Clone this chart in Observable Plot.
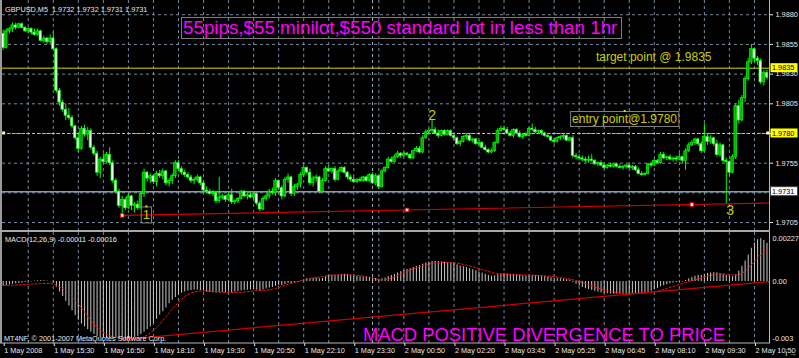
<!DOCTYPE html>
<html><head><meta charset="utf-8">
<script src="https://cdn.jsdelivr.net/npm/d3@7"></script>
<script src="https://cdn.jsdelivr.net/npm/@observablehq/plot@0.6"></script>
<style>
html,body{margin:0;padding:0;background:#000;}
#chart{position:relative;width:799px;height:358px;background:#000;overflow:hidden;font-family:"Liberation Sans",Arial,sans-serif;}
#chart svg{position:absolute;left:0;}
</style></head><body><div id="chart"></div><script>
// ---------- DATA (prices in pips above 1.9700) ----------
const openPips = [164,152,166,168,171,169,172,169,166,168,165,163,166,158,160,157,160,151,116,106,
100,95,93,86,76,67,84,79,82,68,63,47,58,56,62,55,40,31,19,24,
17,27,19,20,17,29,47,42,44,39,46,44,48,38,40,44,55,50,47,45,
43,40,41,43,38,32,31,29,30,23,26,27,24,28,22,23,25,31,27,28,
26,29,21,16,25,27,31,30,40,34,27,41,43,29,35,37,45,51,47,38,
42,43,31,40,50,48,50,41,48,51,47,43,41,39,41,40,43,40,45,38,
44,35,48,51,58,56,60,63,61,63,62,59,65,67,64,76,81,82,83,80,
78,82,79,82,78,76,71,73,77,78,74,75,71,72,68,66,64,65,72,82,
84,83,80,78,83,80,77,79,78,84,83,81,82,80,78,77,74,73,76,77,
78,74,76,61,60,59,58,57,58,57,54,55,53,51,53,52,54,52,51,52,
53,51,52,49,46,45,46,54,53,57,55,62,59,60,58,59,58,60,57,65,
70,72,75,71,65,77,73,76,71,62,70,57,56,47,60,103,91,110,126,140,
151,143,141,123,131];
const highPips = [167,168,169,173,173,173,173,170,169,169,168,168,167,162,161,163,165,152,118,108,
105,101,95,87,80,86,87,85,84,70,65,60,63,64,68,57,42,33,27,26,
29,28,22,23,31,50,48,46,45,48,49,50,49,42,46,57,57,52,49,47,
45,43,45,44,39,35,33,32,31,43,29,28,30,33,24,26,32,32,30,30,
31,30,23,27,29,33,34,42,41,36,43,46,44,37,38,47,53,52,50,44,
45,44,42,52,53,51,52,50,52,52,48,45,43,42,43,44,44,46,47,46,
45,50,52,60,60,62,65,64,64,64,63,66,69,69,78,83,84,92,85,83,
83,83,83,83,80,77,74,78,79,79,76,76,74,73,70,67,67,73,84,86,
86,85,82,84,84,82,80,81,85,88,85,83,83,81,80,78,76,77,78,79,
79,77,78,63,62,61,60,61,62,58,56,57,55,54,55,55,55,54,53,54,
54,53,53,51,48,47,55,56,58,58,64,64,61,62,60,61,63,61,67,72,
74,76,76,73,88,80,78,77,74,72,71,59,57,62,105,108,112,128,143,155,
152,145,143,133,133];
const lowPips = [150,151,164,165,167,168,168,165,164,163,162,162,157,156,155,155,150,114,103,98,
91,91,84,74,64,66,77,74,66,61,44,42,54,55,53,38,29,17,10,15,
16,15,13,15,16,26,39,38,37,35,42,41,36,35,37,42,48,45,43,41,
38,37,39,36,30,29,28,27,21,21,24,22,23,20,20,21,24,26,24,25,
24,19,14,15,23,25,28,27,32,24,26,38,27,27,32,34,43,45,36,35,
39,29,30,39,47,46,39,40,47,46,41,39,38,38,39,39,39,39,37,36,
33,34,47,50,55,55,59,59,60,61,58,58,64,63,63,75,79,80,79,76,
77,78,78,77,74,70,69,72,75,73,72,70,69,67,65,63,63,64,71,81,
82,79,77,76,79,76,75,77,77,82,80,79,78,77,76,73,71,72,74,75,
73,73,59,58,57,56,55,55,56,53,52,52,50,50,51,51,51,50,49,50,
50,49,48,45,44,44,45,51,52,54,54,58,57,57,56,56,57,55,49,64,
69,70,69,63,64,70,71,69,60,60,55,21,44,46,58,88,90,106,124,138,
139,137,121,120,125];
const closePips = [152,166,168,171,169,172,169,166,168,165,163,166,158,160,157,160,151,116,106,100,
95,93,86,76,67,84,79,82,68,63,47,58,56,62,55,40,31,19,24,17,
27,19,20,17,29,47,42,44,39,46,44,48,38,40,44,55,50,47,45,43,
40,41,43,38,32,31,29,30,23,26,27,24,28,22,23,25,31,27,28,26,
29,21,16,25,27,31,30,40,34,27,41,43,29,35,37,45,51,47,38,42,
43,31,40,50,48,50,41,48,51,47,43,41,39,41,40,43,40,45,38,44,
35,48,51,58,56,60,63,61,63,62,59,65,67,64,76,81,82,83,80,78,
82,79,82,78,76,71,73,77,78,74,75,71,72,68,66,64,65,72,82,84,
83,80,78,83,80,77,79,78,84,83,81,82,80,78,77,74,73,76,77,78,
74,76,61,60,59,58,57,58,57,54,55,53,51,53,52,54,52,51,52,53,
51,52,49,46,45,46,54,53,57,55,62,59,60,58,59,58,60,57,65,70,
72,75,71,65,77,73,76,71,62,70,57,56,47,60,103,91,110,126,140,151,
143,141,123,131,127];

// MACD main (histogram) and signal, in units of 0.00001
const macdHist = [-25,-22,-18,-15,-12,-10,-8,-5,-3,-2,
2,4,5,4,2,-2,-8,-30,-55,-80,
-105,-130,-155,-180,-205,-225,-240,-255,-268,-280,
-292,-298,-300,-300,-298,-300,-302,-305,-308,-306,
-304,-300,-296,-290,-280,-268,-255,-240,-222,-200,
-178,-160,-140,-118,-100,-85,-72,-62,-55,-50,
-48,-45,-46,-48,-52,-56,-58,-60,-62,-60,
-58,-58,-56,-58,-57,-54,-50,-48,-46,-45,
-44,-46,-48,-44,-40,-35,-32,-25,-22,-22,
-16,-10,-12,-8,-4,2,10,15,14,16,
18,14,16,26,30,33,32,34,37,38,
36,33,28,27,25,24,22,22,18,16,
12,14,18,26,32,38,45,52,58,64,
68,74,80,84,92,98,102,105,106,105,
104,102,100,98,95,88,82,78,74,68,
62,56,50,44,38,32,28,30,36,40,
42,40,38,38,36,33,30,28,30,32,
31,30,29,26,24,20,17,15,14,13,
10,8,-5,-15,-24,-32,-38,-43,-47,-52,
-56,-60,-63,-65,-66,-67,-67,-66,-66,-65,
-64,-63,-63,-64,-66,-65,-58,-52,-44,-38,
-28,-22,-16,-12,-8,-6,-3,-2,6,14,
22,28,32,32,38,42,45,47,46,42,
38,32,28,26,36,55,80,108,140,176,
204,221,227,217,202];
const macdSignal = [-21,-21,-20,-20,-19,-18,-17,-16,-15,-14,
-13,-12,-11,-10,-10,-11,-14,-20,-28,-38,
-50,-64,-80,-98,-118,-140,-162,-184,-206,-225,
-242,-257,-269,-279,-287,-292,-296,-298,-300,-301,
-302,-302,-301,-300,-298,-292,-284,-273,-260,-244,
-226,-206,-186,-166,-146,-128,-110,-94,-80,-70,
-62,-56,-52,-50,-49,-50,-51,-52,-54,-56,
-57,-58,-59,-59,-59,-58,-57,-55,-54,-52,
-50,-49,-48,-47,-46,-44,-41,-37,-32,-26,
-20,-15,-10,-6,-2,3,8,12,16,19,
21,23,26,29,32,34,35,35,35,35,
35,35,34,33,31,29,26,22,18,13,
10,9,10,13,17,24,31,39,46,53,
60,66,72,78,84,89,93,96,98,99,
100,101,101,100,99,97,94,91,87,83,
78,73,68,63,58,53,48,44,41,39,
37,36,35,35,35,35,35,34,34,33,
33,32,31,30,29,27,25,23,21,19,
16,13,9,5,0,-5,-11,-17,-23,-29,
-35,-40,-45,-49,-53,-56,-59,-61,-62,-63,
-63,-63,-63,-62,-61,-60,-59,-57,-54,-51,
-47,-42,-37,-31,-26,-21,-16,-11,-6,-1,
4,9,14,19,24,29,33,36,38,40,
40,39,37,35,34,36,42,55,70,88,
106,125,142,155,165];

const timeTickBars = [0,16,32,48,64,80,96,112,128,144,160,176,192,208,224,240];
const timeLabels = ["1 May 2008","1 May 15:30","1 May 16:50","1 May 18:10","1 May 19:30","1 May 20:50","1 May 22:10","1 May 23:30","2 May 00:50","2 May 02:20","2 May 03:45","2 May 05:25","2 May 06:45","2 May 08:10","2 May 09:30","2 May 10:50"];
const gridBars = [8,16,24,32,40,48,56,64,72,80,88,96,104,112,120,128,136,144,152,160,168,176,184,192,200,208,216,224,232,240];
const daySeparatorBars = [118];
const priceGridTicks = [1.9705,1.9730,1.9755,1.9780,1.9805,1.9830,1.9855,1.9880];
const priceLabelTicks = [1.9705,1.9755,1.9805,1.9830,1.9855,1.9880];
const macdTickValues = [0.00227, 0, -0.003];
const macdTickLabels = ["0.00227","0.00","-0.003"];

const levelPrices = [1.9835, 1.9780, 1.9731];
const levelLabels = ["1.9835","1.9780","1.9731"];
const trendBars = [38, 220];
const trendPips = [11, 20.2];
const macdTrendBars = [38, 220];
const macdTrendValues = [-307, -37];

const annoTexts = ["target point @ 1.9835","entry point@1.9780","1","2","3"];
const annoBars = [189.5, 181.9, 45.9, 137.2, 232.4];
const annoPrices = [1.98410, 1.97884, 1.97072, 1.97909, 1.97110];

const headerText = "GBPUSD,M5  1.9732 1.9732 1.9731 1.9731";
const titleText = "55pips,$55 minilot,$550 standard lot in less than 1hr";
const macdTitle = "MACD(12,26,9) -0.00011 -0.00016";
const copyright = "MT4NF, \u00a9 2001-2007 MetaQuotes Software Corp.";
const footerText = "MACD POSITIVE DIVERGENCE TO PRICE";

// ---------- BUILD ----------
const BASE = 1.97, PIP = 0.0001, MU = 0.00001;
const bars = closePips.map((c, i) => ({
  i, o: BASE + openPips[i]*PIP, h: BASE + highPips[i]*PIP, l: BASE + lowPips[i]*PIP, c: BASE + c*PIP,
  m: macdHist[i]*MU, s: macdSignal[i]*MU
}));
const xDomain = [-0.22, 244.8];
const GRID = "#778899", LIME = "#00ff00", FONT = "'Liberation Sans', Arial, sans-serif";

const tp = trendPips.map(p => BASE + p*PIP);
const slope = (tp[1]-tp[0])/(trendBars[1]-trendBars[0]);
const trendPts = [{i: trendBars[0], p: tp[0]}, {i: xDomain[1], p: tp[0] + slope*(xDomain[1]-trendBars[0])}];
const handles = [{i: trendBars[0], p: tp[0]}, {i: (trendBars[0]+trendBars[1])/2, p: (tp[0]+tp[1])/2}, {i: trendBars[1], p: tp[1]}];
const mt = macdTrendValues.map(v => v*MU);
const mslope = (mt[1]-mt[0])/(macdTrendBars[1]-macdTrendBars[0]);
const macdTrendPts = [{i: macdTrendBars[0], v: mt[0]}, {i: xDomain[1], v: mt[0] + mslope*(xDomain[1]-macdTrendBars[0])}];

const main = Plot.plot({
  width: 799, height: 230, marginLeft: 2, marginRight: 30, marginTop: 0, marginBottom: 0,
  style: {background: "transparent", color: "#e8e8e8", fontFamily: FONT, fontSize: "7.3px"},
  x: {domain: xDomain, axis: null},
  y: {domain: [1.96983, 1.98920], axis: null},
  marks: [
    Plot.ruleX(gridBars, {stroke: GRID, strokeDasharray: "3,3"}),
    Plot.ruleY(priceGridTicks, {stroke: GRID, strokeDasharray: "3,3"}),
    Plot.ruleX(daySeparatorBars, {stroke: "#aab4c0", strokeDasharray: "3,3"}),
    Plot.ruleY([levelPrices[0]], {stroke: "#d6d600"}),
    Plot.ruleY([levelPrices[1]], {stroke: "#d6d600", strokeDasharray: "3,2"}),
    Plot.ruleY([levelPrices[2]], {stroke: "#8e9bab", strokeWidth: 1.5}),
    Plot.line(trendPts, {x: "i", y: "p", stroke: "#d00000", strokeWidth: 1.2}),
    Plot.ruleX(bars, {x: "i", y1: "l", y2: "h", stroke: LIME, strokeWidth: 1}),
    Plot.rect(bars, {x1: d => d.i - 0.4, x2: d => d.i + 0.4, y1: "o", y2: "c",
      fill: d => d.c > d.o ? "#00a800" : "#e8ffe8", stroke: LIME, strokeWidth: 0.7}),
    Plot.dot(handles, {x: "i", y: "p", symbol: "square", r: 2, fill: "white", stroke: "#ff0000", strokeWidth: 1}),
    Plot.axisY(priceGridTicks, {anchor: "right", tickSize: 3, tickPadding: 3,
      tickFormat: d => priceLabelTicks.includes(d) ? d.toFixed(4) : ""})
  ]
});
main.style.top = "0px";
document.getElementById("chart").appendChild(main);

const macd = Plot.plot({
  width: 799, height: 126, marginLeft: 2, marginRight: 30, marginTop: 0, marginBottom: 15,
  style: {background: "transparent", color: "#e8e8e8", fontFamily: FONT, fontSize: "7.3px"},
  x: {domain: xDomain, axis: null},
  y: {domain: [-0.0032804, 0.0025926], axis: null},
  marks: [
    Plot.ruleX(gridBars, {stroke: GRID, strokeDasharray: "3,3"}),
    Plot.ruleX(daySeparatorBars, {stroke: "#aab4c0", strokeDasharray: "3,3"}),
    Plot.ruleX(bars, {x: "i", y1: 0, y2: "m", stroke: "#c8c8c8", strokeWidth: 1}),
    Plot.line(bars, {x: "i", y: "s", stroke: "#ff1010", strokeWidth: 1, strokeDasharray: "2,2"}),
    Plot.line(macdTrendPts, {x: "i", y: "v", stroke: "#d00000", strokeWidth: 1.3}),
    Plot.axisY(macdTickValues, {anchor: "right", tickSize: 0, tickPadding: 3,
      tickFormat: d => macdTickLabels[macdTickValues.indexOf(d)]}),
    Plot.axisX(timeTickBars, {anchor: "bottom", tickSize: 3, tickPadding: 1, textAnchor: "start", dx: 1,
      tickFormat: d => timeLabels[timeTickBars.indexOf(d)]})
  ]
});
macd.style.top = "232px";
document.getElementById("chart").appendChild(macd);

// ---------- overlay: frame, labels, annotations ----------
const X = main.scale("x"), Y = main.scale("y");
const ov = d3.select("#chart").append("svg").attr("width", 799).attr("height", 358)
  .style("top", "0px").style("font-family", FONT);
const line = (x1, y1, x2, y2, c, w) => ov.append("line").attr("x1", x1).attr("y1", y1).attr("x2", x2).attr("y2", y2).attr("stroke", c).attr("stroke-width", w);
line(1, 0, 1, 343, "#9a9a9a", 2);
line(769.5, 0, 769.5, 343, "#b8b8b8", 1);
line(0, 231, 770, 231, "#a8a8a8", 2);
line(0, 343, 770, 343, "#b8b8b8", 1);
const txt = (x, y, s, size, color, anchor) => ov.append("text").attr("x", x).attr("y", y)
  .attr("font-size", size).attr("fill", color).attr("text-anchor", anchor || "start")
  .style("white-space", "pre").text(s);

txt(5, 11.5, headerText, 7.3, "#e8e8e8");
ov.append("rect").attr("x", 181.5).attr("y", 17.5).attr("width", 440).attr("height", 21).attr("fill", "none").attr("stroke", "#7a7a7a");
txt(183, 34, titleText, 18.8, "#ff00ff");
txt(5, 241.5, macdTitle, 7.3, "#e8e8e8");
txt(4, 341, copyright, 7.3, "#e8e8e8");
txt(363, 341, footerText, 18.4, "#ff00ff");

// level labels on the price axis
const levelBg = ["#ffff00", "#ffff00", "#ffffff"];
levelPrices.forEach((p, k) => {
  const y = Y.apply(p);
  ov.append("rect").attr("x", 770.5).attr("y", y - 4.5).attr("width", 27).attr("height", 9)
    .attr("fill", levelBg[k]).attr("stroke", k === 2 ? "#404040" : "none");
  txt(772, y + 2.6, levelLabels[k], 7.3, "#000");
});
// handles of the entry line
[X.apply(0.3), X.apply(244.4)].forEach((x, k) => {
  ov.append("rect").attr("x", x - 1.5).attr("y", Y.apply(levelPrices[1]) - 1.5).attr("width", 3).attr("height", 3)
    .attr("fill", k ? "#ffffff" : "#ffffc0");
});

// annotations
const annoSize = [12, 12, 13, 14, 14];
const annoAnchor = ["start", "start", "middle", "middle", "middle"];
const boxed = [false, true, true, false, false];
annoTexts.forEach((s, k) => {
  const t = txt(X.apply(annoBars[k]), Y.apply(annoPrices[k]), s, annoSize[k], "#cccc00", annoAnchor[k]);
  if (boxed[k]) {
    const b = t.node().getBBox();
    ov.insert("rect", () => t.node()).attr("x", b.x - 1.5).attr("y", b.y - 0.5).attr("width", b.width + 3).attr("height", b.height + 1)
      .attr("fill", "none").attr("stroke", "#808080");
    ov.append("rect").attr("x", b.x + b.width/2 - 1).attr("y", b.y - 2).attr("width", 2).attr("height", 2).attr("fill", "#e0e000");
  }
});
</script></body></html>
